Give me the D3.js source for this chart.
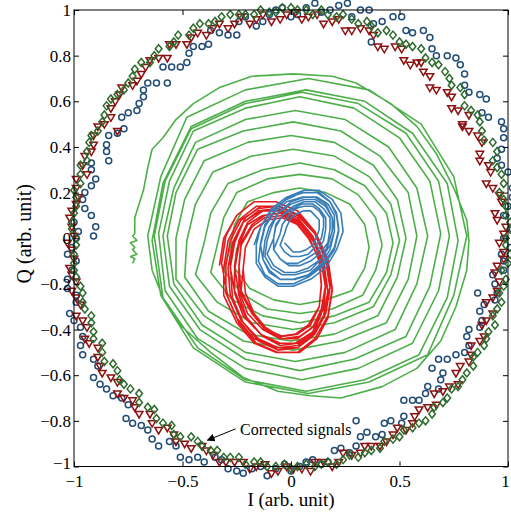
<!DOCTYPE html>
<html>
<head>
<meta charset="utf-8">
<script src="https://cdn.jsdelivr.net/npm/d3@7"></script>
<style>
  body { margin: 0; background: #fff; }
  text { font-family: "Liberation Serif", "Times New Roman", serif; }
</style>
</head>
<body>
<div id="chart"></div>
<script>
/* DATA */
const xTicks = [-1, -0.5, 0, 0.5, 1];
const yTicks = [-1, -0.8, -0.6, -0.4, -0.2, 0, 0.2, 0.4, 0.6, 0.8, 1];
const xLabel = "I (arb. unit)";
const yLabel = "Q (arb. unit)";
const noteText = "Corrected signals";
const notePoint = [-0.235, -0.86];
const arrowFrom = [-0.255, -0.835];
const arrowTo = [-0.385, -0.885];

// uncorrected trajectories (I, Q)
const spiralGreen = [
  [-0.73,-0.11],[-0.72,-0.09],[-0.74,-0.08],[-0.71,-0.07],[-0.73,-0.05],[-0.72,-0.04],[-0.74,-0.02],[-0.71,-0.01],[-0.73,0.01],[-0.72,0.02],[-0.72,0.05],[-0.72,0.09],[-0.70,0.15],[-0.68,0.21],[-0.66,0.31],[-0.64,0.39],[-0.59,0.44],[-0.53,0.52],[-0.45,0.59],[-0.33,0.66],[-0.18,0.71],[0.01,0.72],[0.19,0.71],[0.30,0.68],[0.46,0.59],[0.58,0.49],[0.67,0.37],[0.75,0.22],[0.81,0.08],[0.82,-0.01],[0.81,-0.14],[0.76,-0.30],[0.69,-0.45],[0.58,-0.57],[0.42,-0.65],[0.23,-0.70],[0.09,-0.69],[-0.06,-0.67],[-0.22,-0.61],[-0.37,-0.50],[-0.50,-0.39],[-0.59,-0.26],[-0.64,-0.14],
  [-0.66,0.01],[-0.60,0.27],[-0.48,0.53],[-0.21,0.65],[0.08,0.70],[0.36,0.65],[0.60,0.50],[0.75,0.27],[0.81,0.01],[0.75,-0.25],[0.63,-0.51],[0.36,-0.63],[0.08,-0.68],[-0.21,-0.63],[-0.45,-0.48],[-0.60,-0.25],
  [-0.64,-0.01],[-0.59,0.24],[-0.46,0.49],[-0.21,0.60],[0.07,0.65],[0.34,0.60],[0.56,0.46],[0.72,0.24],[0.77,-0.01],[0.72,-0.26],[0.59,-0.51],[0.34,-0.62],[0.07,-0.67],[-0.21,-0.62],[-0.43,-0.48],[-0.59,-0.26],
  [-0.63,0.01],[-0.58,0.25],[-0.46,0.48],[-0.21,0.59],[0.05,0.64],[0.31,0.59],[0.53,0.46],[0.68,0.25],[0.73,0.01],[0.68,-0.23],[0.56,-0.46],[0.31,-0.57],[0.05,-0.62],[-0.21,-0.57],[-0.43,-0.44],[-0.58,-0.23],
  [-0.61,0.02],[-0.56,0.25],[-0.45,0.47],[-0.21,0.57],[0.04,0.62],[0.29,0.57],[0.50,0.44],[0.64,0.25],[0.69,0.02],[0.64,-0.21],[0.53,-0.43],[0.29,-0.53],[0.04,-0.58],[-0.21,-0.53],[-0.42,-0.40],[-0.56,-0.21],
  [-0.59,0.01],[-0.54,0.22],[-0.44,0.42],[-0.21,0.52],[0.02,0.56],[0.25,0.52],[0.45,0.40],[0.58,0.22],[0.63,0.01],[0.58,-0.20],[0.48,-0.40],[0.25,-0.50],[0.02,-0.54],[-0.21,-0.50],[-0.41,-0.38],[-0.54,-0.20],
  [-0.57,0.01],[-0.53,0.20],[-0.43,0.39],[-0.22,0.47],[0.01,0.51],[0.23,0.47],[0.41,0.36],[0.54,0.20],[0.58,0.01],[0.54,-0.18],[0.44,-0.37],[0.23,-0.45],[0.01,-0.49],[-0.22,-0.45],[-0.40,-0.34],[-0.53,-0.18],
  [-0.53,0.00],[-0.49,0.17],[-0.40,0.34],[-0.20,0.42],[0.00,0.45],[0.20,0.42],[0.38,0.32],[0.49,0.17],[0.53,0.00],[0.49,-0.17],[0.40,-0.34],[0.20,-0.42],[0.00,-0.45],[-0.20,-0.42],[-0.38,-0.32],[-0.49,-0.17],
  [-0.48,-0.01],[-0.44,0.15],[-0.36,0.29],[-0.18,0.36],[0.01,0.39],[0.20,0.36],[0.36,0.27],[0.46,0.15],[0.50,-0.01],[0.46,-0.16],[0.38,-0.30],[0.20,-0.37],[0.01,-0.40],[-0.18,-0.37],[-0.34,-0.28],[-0.44,-0.16],
  [-0.40,-0.02],[-0.37,0.11],[-0.29,0.24],[-0.13,0.30],[0.04,0.33],[0.20,0.30],[0.34,0.23],[0.44,0.11],[0.47,-0.02],[0.44,-0.15],[0.36,-0.28],[0.20,-0.34],[0.04,-0.37],[-0.13,-0.34],[-0.27,-0.27],[-0.37,-0.15],
  [-0.34,-0.03],[-0.31,0.09],[-0.25,0.20],[-0.11,0.26],[0.04,0.28],[0.19,0.26],[0.31,0.19],[0.39,0.09],[0.42,-0.03],[0.39,-0.14],[0.33,-0.25],[0.19,-0.31],[0.04,-0.33],[-0.11,-0.31],[-0.23,-0.24],[-0.31,-0.14],
  [-0.28,-0.04],[-0.26,0.06],[-0.20,0.16],[-0.08,0.20],[0.04,0.22],[0.16,0.20],[0.27,0.15],[0.34,0.06],[0.36,-0.04],[0.34,-0.13],[0.28,-0.23],[0.16,-0.27],[0.04,-0.29],[-0.08,-0.27],[-0.19,-0.22],[-0.26,-0.13],[-0.25,-0.04]
];

const spiralRed = [
  [-0.33,-0.12],[-0.31,0.00],[-0.25,0.10],[-0.17,0.16],[-0.07,0.16],[0.03,0.12],[0.11,0.03],[0.17,-0.09],[0.19,-0.22],[0.17,-0.34],[0.11,-0.44],[0.03,-0.50],[-0.07,-0.50],[-0.17,-0.46],[-0.25,-0.37],[-0.31,-0.25],
  [-0.31,-0.13],[-0.29,-0.01],[-0.24,0.08],[-0.16,0.14],[-0.06,0.14],[0.04,0.10],[0.12,0.01],[0.17,-0.10],[0.19,-0.23],[0.17,-0.35],[0.12,-0.44],[0.04,-0.50],[-0.06,-0.50],[-0.16,-0.46],[-0.24,-0.37],[-0.29,-0.26],
  [-0.32,-0.11],[-0.30,0.01],[-0.25,0.10],[-0.17,0.16],[-0.07,0.16],[0.03,0.12],[0.11,0.03],[0.16,-0.08],[0.18,-0.21],[0.16,-0.33],[0.11,-0.42],[0.03,-0.48],[-0.07,-0.48],[-0.17,-0.44],[-0.25,-0.35],[-0.30,-0.24],
  [-0.30,-0.12],[-0.28,-0.01],[-0.23,0.08],[-0.15,0.13],[-0.06,0.14],[0.03,0.10],[0.11,0.02],[0.16,-0.10],[0.18,-0.22],[0.16,-0.33],[0.11,-0.42],[0.03,-0.47],[-0.06,-0.48],[-0.15,-0.44],[-0.23,-0.36],[-0.28,-0.25],
  [-0.29,-0.13],[-0.27,-0.02],[-0.22,0.07],[-0.15,0.12],[-0.06,0.13],[0.03,0.09],[0.10,0.01],[0.15,-0.10],[0.17,-0.23],[0.15,-0.34],[0.10,-0.43],[0.03,-0.48],[-0.06,-0.49],[-0.15,-0.45],[-0.22,-0.37],[-0.27,-0.26],
  [-0.28,-0.11],[-0.26,0.00],[-0.21,0.09],[-0.14,0.14],[-0.05,0.14],[0.04,0.10],[0.11,0.02],[0.16,-0.09],[0.18,-0.21],[0.16,-0.32],[0.11,-0.41],[0.04,-0.46],[-0.05,-0.46],[-0.14,-0.42],[-0.21,-0.34],[-0.26,-0.23],
  [-0.28,-0.13],[-0.26,-0.02],[-0.22,0.07],[-0.14,0.12],[-0.06,0.12],[0.02,0.08],[0.10,0.00],[0.14,-0.10],[0.16,-0.21],[0.14,-0.32],[0.10,-0.41],[0.02,-0.46],[-0.06,-0.46],[-0.14,-0.42],[-0.22,-0.34],[-0.26,-0.24],
  [-0.26,-0.14],[-0.24,-0.03],[-0.20,0.06],[-0.13,0.10],[-0.05,0.11],[0.03,0.07],[0.10,0.00],[0.14,-0.11],[0.16,-0.22],[0.14,-0.33],[0.10,-0.42],[0.03,-0.46],[-0.05,-0.47],[-0.13,-0.43],[-0.20,-0.36],[-0.24,-0.25],
  [-0.26,-0.12],[-0.24,-0.01],[-0.20,0.07],[-0.13,0.12],[-0.05,0.12],[0.03,0.08],[0.10,0.01],[0.14,-0.09],[0.16,-0.20],[0.14,-0.31],[0.10,-0.39],[0.03,-0.44],[-0.05,-0.44],[-0.13,-0.40],[-0.20,-0.33],[-0.24,-0.23],
  [-0.24,-0.13],[-0.23,-0.03],[-0.18,0.05],[-0.12,0.09],[-0.04,0.10],[0.04,0.06],[0.10,-0.01],[0.15,-0.10],[0.16,-0.21],[0.15,-0.31],[0.10,-0.39],[0.04,-0.43],[-0.04,-0.44],[-0.12,-0.40],[-0.18,-0.33],[-0.23,-0.24],
  [-0.24,-0.12],[-0.23,-0.02],[-0.18,0.06],[-0.12,0.10],[-0.05,0.11],[0.02,0.07],[0.08,0.00],[0.13,-0.09],[0.14,-0.20],[0.13,-0.30],[0.08,-0.38],[0.02,-0.42],[-0.05,-0.43],[-0.12,-0.39],[-0.18,-0.32],[-0.23,-0.23],
  [-0.22,-0.13],[-0.21,-0.04],[-0.17,0.04],[-0.11,0.08],[-0.04,0.09],[0.03,0.06],[0.09,-0.01],[0.13,-0.10],[0.14,-0.21],[0.13,-0.30],[0.09,-0.38],[0.03,-0.42],[-0.04,-0.43],[-0.11,-0.40],[-0.17,-0.33],[-0.21,-0.24],[-0.22,-0.14]
];

const spiralBlue = [
  [-0.17,-0.03],[-0.14,0.05],[-0.09,0.13],[-0.02,0.18],[0.06,0.21],[0.13,0.21],[0.19,0.17],[0.23,0.11],[0.24,0.03],[0.21,-0.05],[0.16,-0.13],[0.09,-0.18],[0.01,-0.21],[-0.06,-0.21],[-0.12,-0.17],[-0.16,-0.11],
  [-0.16,-0.03],[-0.14,0.05],[-0.09,0.12],[-0.02,0.17],[0.05,0.20],[0.12,0.20],[0.18,0.16],[0.21,0.10],[0.22,0.03],[0.20,-0.05],[0.15,-0.12],[0.08,-0.17],[0.01,-0.20],[-0.06,-0.20],[-0.12,-0.16],[-0.15,-0.10],
  [-0.14,-0.02],[-0.12,0.06],[-0.07,0.13],[-0.01,0.18],[0.06,0.20],[0.13,0.20],[0.18,0.16],[0.21,0.11],[0.22,0.04],[0.20,-0.04],[0.15,-0.11],[0.09,-0.16],[0.02,-0.18],[-0.05,-0.18],[-0.10,-0.14],[-0.13,-0.09],
  [-0.14,-0.03],[-0.12,0.05],[-0.08,0.11],[-0.02,0.16],[0.05,0.18],[0.11,0.18],[0.16,0.15],[0.19,0.09],[0.20,0.03],[0.18,-0.05],[0.14,-0.11],[0.08,-0.16],[0.01,-0.18],[-0.05,-0.18],[-0.10,-0.15],[-0.13,-0.09],
  [-0.12,-0.01],[-0.10,0.05],[-0.06,0.11],[0.00,0.16],[0.06,0.18],[0.12,0.18],[0.17,0.15],[0.20,0.10],[0.20,0.03],[0.18,-0.03],[0.14,-0.09],[0.09,-0.14],[0.02,-0.16],[-0.04,-0.16],[-0.09,-0.13],[-0.12,-0.08],
  [-0.11,-0.01],[-0.09,0.05],[-0.06,0.11],[0.00,0.15],[0.06,0.17],[0.11,0.17],[0.16,0.14],[0.19,0.09],[0.19,0.03],[0.17,-0.03],[0.14,-0.09],[0.08,-0.13],[0.02,-0.15],[-0.03,-0.15],[-0.08,-0.12],[-0.11,-0.07],
  [-0.08,0.00],[-0.07,0.06],[-0.03,0.11],[0.01,0.14],[0.06,0.16],[0.11,0.16],[0.15,0.13],[0.18,0.09],[0.18,0.04],[0.17,-0.02],[0.13,-0.07],[0.09,-0.10],[0.04,-0.12],[-0.01,-0.12],[-0.05,-0.09],[-0.08,-0.05],
  [-0.08,0.00],[-0.07,0.05],[-0.04,0.10],[0.01,0.13],[0.05,0.15],[0.10,0.15],[0.13,0.13],[0.16,0.09],[0.16,0.04],[0.15,-0.01],[0.12,-0.06],[0.07,-0.09],[0.03,-0.11],[-0.02,-0.11],[-0.05,-0.09],[-0.08,-0.05],
  [-0.05,0.02],[-0.04,0.06],[-0.01,0.10],[0.02,0.13],[0.06,0.14],[0.10,0.14],[0.13,0.12],[0.15,0.09],[0.15,0.05],[0.14,0.00],[0.11,-0.04],[0.08,-0.07],[0.04,-0.08],[0.00,-0.08],[-0.03,-0.06],[-0.05,-0.03],
  [-0.03,0.02],[-0.02,0.05],[0.00,0.09],[0.03,0.11],[0.06,0.12],[0.09,0.12],[0.11,0.10],[0.13,0.08],[0.13,0.04],[0.12,0.01],[0.10,-0.03],[0.07,-0.05],[0.04,-0.06],[0.01,-0.06],[-0.01,-0.04],[-0.03,-0.02]
];

// corrected signals on the unit circle (I, Q)
const ringGreen = [
  [0.99,0.00],[1.01,0.07],[0.99,0.14],[0.96,0.20],[0.97,0.28],[0.93,0.34],[0.93,0.42],[0.88,0.47],[0.86,0.54],[0.80,0.58],[0.78,0.66],[0.73,0.70],[0.68,0.76],[0.62,0.79],[0.56,0.84],[0.50,0.86],[0.44,0.91],[0.37,0.93],[0.31,0.94],[0.24,0.98],[0.17,0.98],[0.10,0.98],[0.03,1.00],
  [-0.04,1.01],[-0.10,0.99],[-0.17,0.98],[-0.24,0.98],[-0.32,0.97],[-0.38,0.94],[-0.45,0.92],[-0.52,0.89],[-0.56,0.84],[-0.63,0.80],[-0.69,0.77],[-0.73,0.71],[-0.77,0.65],[-0.83,0.61],[-0.86,0.54],[-0.89,0.47],[-0.93,0.42],[-0.94,0.34],[-0.97,0.28],[-1.00,0.21],[-0.99,0.14],[-1.01,0.07],
  [-0.99,0.00],[-1.00,-0.07],[-1.00,-0.14],[-0.97,-0.21],[-0.96,-0.28],[-0.92,-0.34],[-0.91,-0.41],[-0.87,-0.46],[-0.86,-0.54],[-0.80,-0.58],[-0.77,-0.64],[-0.70,-0.68],[-0.66,-0.74],[-0.62,-0.79],[-0.55,-0.82],[-0.51,-0.87],[-0.43,-0.89],[-0.37,-0.93],[-0.31,-0.96],[-0.24,-0.96],[-0.17,-0.98],[-0.11,-1.00],[-0.03,-0.99],
  [0.03,-1.00],[0.11,-1.00],[0.17,-0.98],[0.24,-0.97],[0.31,-0.96],[0.37,-0.93],[0.43,-0.89],[0.50,-0.87],[0.56,-0.83],[0.62,-0.80],[0.66,-0.74],[0.72,-0.70],[0.77,-0.65],[0.81,-0.59],[0.84,-0.52],[0.89,-0.47],[0.91,-0.41],[0.93,-0.34],[0.97,-0.28],[0.98,-0.21],[0.97,-0.14],[1.01,-0.07],
  [1.01,0.04],[0.99,0.10],[0.98,0.17],[0.98,0.24],[0.95,0.31],[0.95,0.38],[0.89,0.43],[0.87,0.51],[0.83,0.56],[0.80,0.63],[0.74,0.67],[0.71,0.73],[0.65,0.77],[0.60,0.83],[0.53,0.85],[0.47,0.89],[0.40,0.90],[0.35,0.95],[0.28,0.96],[0.21,0.97],[0.14,1.00],[0.07,1.00],[0.00,1.01],
  [-0.07,0.99],[-0.14,1.00],[-0.21,0.98],[-0.28,0.98],[-0.35,0.95],[-0.42,0.94],[-0.47,0.89],[-0.54,0.86],[-0.61,0.83],[-0.65,0.77],[-0.72,0.74],[-0.75,0.68],[-0.80,0.63],[-0.85,0.58],[-0.87,0.51],[-0.92,0.45],[-0.94,0.38],[-0.97,0.32],[-0.97,0.24],[-0.99,0.18],[-1.00,0.11],[-1.01,0.04],
  [-0.99,-0.03],[-1.00,-0.11],[-0.99,-0.17],[-0.96,-0.24],[-0.95,-0.31],[-0.92,-0.37],[-0.91,-0.44],[-0.87,-0.50],[-0.82,-0.55],[-0.79,-0.62],[-0.74,-0.66],[-0.70,-0.72],[-0.63,-0.75],[-0.59,-0.81],[-0.54,-0.86],[-0.46,-0.87],[-0.41,-0.91],[-0.34,-0.93],[-0.28,-0.96],[-0.21,-0.99],[-0.14,-0.98],[-0.07,-1.00],[0.00,-1.01],
  [0.07,-0.99],[0.14,-0.99],[0.21,-0.99],[0.27,-0.95],[0.34,-0.94],[0.41,-0.92],[0.47,-0.88],[0.52,-0.84],[0.59,-0.81],[0.65,-0.77],[0.70,-0.72],[0.74,-0.66],[0.79,-0.62],[0.84,-0.56],[0.86,-0.50],[0.90,-0.44],[0.94,-0.38],[0.95,-0.31],[0.96,-0.24],[0.99,-0.18],[1.00,-0.11],[0.99,-0.03]
];

const ringRed = [
  [0.98,0.02],[0.95,0.08],[0.97,0.16],[0.93,0.22],[0.92,0.29],[0.87,0.34],[0.88,0.42],[0.82,0.47],[0.82,0.54],[0.74,0.57],[0.72,0.64],[0.64,0.66],[0.61,0.73],[0.55,0.76],[0.51,0.83],[0.43,0.83],[0.38,0.89],[0.32,0.92],[0.25,0.91],[0.19,0.95],[0.12,0.98],[0.05,0.96],[-0.02,0.98],
  [-0.09,0.95],[-0.16,0.96],[-0.23,0.97],[-0.29,0.92],[-0.36,0.92],[-0.43,0.90],[-0.48,0.85],[-0.56,0.85],[-0.61,0.79],[-0.67,0.75],[-0.71,0.69],[-0.78,0.66],[-0.81,0.60],[-0.83,0.53],[-0.89,0.49],[-0.91,0.41],[-0.95,0.36],[-0.94,0.28],[-0.99,0.22],[-0.99,0.15],[-1.02,0.09],[-1.00,0.01],
  [-1.01,-0.05],[-1.02,-0.13],[-0.99,-0.19],[-0.99,-0.26],[-0.99,-0.34],[-0.94,-0.39],[-0.93,-0.46],[-0.89,-0.52],[-0.87,-0.59],[-0.80,-0.63],[-0.77,-0.70],[-0.72,-0.74],[-0.65,-0.77],[-0.61,-0.84],[-0.54,-0.86],[-0.49,-0.90],[-0.41,-0.91],[-0.36,-0.95],[-0.30,-0.98],[-0.22,-0.98],[-0.16,-1.00],[-0.09,-1.03],[-0.02,-1.00],
  [0.05,-1.01],[0.11,-0.98],[0.19,-1.00],[0.24,-0.94],[0.32,-0.94],[0.37,-0.91],[0.44,-0.89],[0.49,-0.83],[0.56,-0.81],[0.59,-0.75],[0.67,-0.73],[0.70,-0.67],[0.77,-0.64],[0.78,-0.56],[0.83,-0.51],[0.87,-0.45],[0.88,-0.38],[0.93,-0.33],[0.93,-0.26],[0.96,-0.19],[0.95,-0.12],[0.98,-0.06],
  [0.96,-0.02],[0.99,0.05],[0.94,0.11],[0.96,0.19],[0.90,0.24],[0.91,0.32],[0.87,0.37],[0.86,0.45],[0.79,0.49],[0.77,0.56],[0.74,0.62],[0.67,0.65],[0.64,0.71],[0.60,0.77],[0.52,0.78],[0.48,0.84],[0.40,0.84],[0.36,0.91],[0.28,0.91],[0.22,0.96],[0.15,0.94],[0.08,0.97],[0.02,0.99],
  [-0.05,0.96],[-0.13,0.98],[-0.19,0.94],[-0.26,0.94],[-0.33,0.94],[-0.39,0.89],[-0.46,0.88],[-0.53,0.85],[-0.57,0.79],[-0.65,0.78],[-0.69,0.72],[-0.73,0.67],[-0.79,0.63],[-0.83,0.57],[-0.86,0.50],[-0.91,0.45],[-0.92,0.38],[-0.96,0.32],[-0.99,0.26],[-0.98,0.18],[-1.01,0.12],[-1.01,0.05],
  [-1.03,-0.02],[-1.00,-0.09],[-1.01,-0.16],[-1.01,-0.23],[-0.97,-0.29],[-0.96,-0.36],[-0.95,-0.44],[-0.89,-0.48],[-0.88,-0.56],[-0.83,-0.61],[-0.80,-0.68],[-0.73,-0.71],[-0.70,-0.77],[-0.64,-0.81],[-0.57,-0.83],[-0.53,-0.89],[-0.46,-0.92],[-0.39,-0.93],[-0.33,-0.98],[-0.26,-0.98],[-0.19,-1.01],[-0.12,-0.99],[-0.06,-1.02],
  [0.01,-1.01],[0.09,-1.02],[0.15,-0.98],[0.22,-0.98],[0.28,-0.95],[0.34,-0.91],[0.41,-0.91],[0.47,-0.86],[0.53,-0.84],[0.57,-0.78],[0.63,-0.74],[0.66,-0.68],[0.73,-0.65],[0.76,-0.59],[0.82,-0.54],[0.83,-0.47],[0.89,-0.43],[0.90,-0.36],[0.90,-0.28],[0.95,-0.23],[0.94,-0.15],[0.98,-0.09],
  [-0.80,0.47],[0.58,0.77],[0.79,0.50]
];

const ringBlue = [
  [1.02,0.04],[0.98,0.10],[1.02,0.18],[1.04,0.26],[0.97,0.32],[0.97,0.39],[0.98,0.48],[0.91,0.53],[0.90,0.61],[0.82,0.64],[0.80,0.72],[0.76,0.79],[0.67,0.80],[0.64,0.88],[0.56,0.90],[0.51,0.97],[0.42,0.95],[0.36,1.00],[0.28,0.97],[0.22,1.02],[0.14,0.99],[0.07,1.01],[0.00,0.97],
  [-0.07,1.00],[-0.13,0.95],[-0.21,0.97],[-0.25,0.89],[-0.33,0.90],[-0.38,0.85],[-0.45,0.84],[-0.48,0.77],[-0.55,0.75],[-0.57,0.68],[-0.66,0.68],[-0.68,0.62],[-0.71,0.56],[-0.78,0.53],[-0.80,0.46],[-0.85,0.41],[-0.84,0.34],[-0.92,0.30],[-0.92,0.23],[-0.96,0.17],[-0.92,0.10],[-0.98,0.03],
  [-1.01,-0.04],[-0.99,-0.10],[-1.03,-0.18],[-0.99,-0.25],[-1.02,-0.33],[-0.97,-0.39],[-0.97,-0.47],[-0.91,-0.53],[-0.91,-0.61],[-0.85,-0.66],[-0.78,-0.70],[-0.76,-0.79],[-0.69,-0.82],[-0.64,-0.88],[-0.56,-0.89],[-0.51,-0.96],[-0.43,-0.96],[-0.35,-0.96],[-0.29,-1.01],[-0.22,-1.03],[-0.14,-1.00],[-0.07,-1.01],[0.00,-1.02],
  [0.07,-0.98],[0.14,-0.99],[0.20,-0.93],[0.27,-0.94],[0.32,-0.87],[0.39,-0.87],[0.43,-0.81],[0.51,-0.81],[0.52,-0.71],[0.59,-0.71],[0.63,-0.65],[0.69,-0.62],[0.68,-0.53],[0.76,-0.51],[0.82,-0.47],[0.82,-0.40],[0.88,-0.36],[0.89,-0.29],[0.95,-0.24],[0.93,-0.16],[0.98,-0.10],[1.01,-0.04],
  [0.98,0.00],[1.04,0.07],[1.00,0.14],[1.02,0.22],[1.00,0.29],[0.95,0.35],[0.98,0.44],[0.97,0.51],[0.88,0.55],[0.87,0.63],[0.80,0.67],[0.78,0.76],[0.72,0.80],[0.65,0.83],[0.61,0.91],[0.53,0.91],[0.47,0.97],[0.38,0.94],[0.32,1.00],[0.26,1.03],[0.18,1.00],[0.11,1.03],[0.03,0.98],
  [-0.04,1.01],[-0.10,0.98],[-0.16,0.93],[-0.24,0.95],[-0.29,0.89],[-0.37,0.91],[-0.41,0.84],[-0.47,0.81],[-0.51,0.75],[-0.59,0.75],[-0.62,0.68],[-0.68,0.65],[-0.70,0.59],[-0.75,0.55],[-0.77,0.48],[-0.84,0.45],[-0.85,0.38],[-0.92,0.33],[-0.90,0.26],[-0.95,0.20],[-0.95,0.13],[-1.00,0.07],
  [-0.99,0.00],[-1.03,-0.07],[-1.01,-0.14],[-1.03,-0.22],[-0.99,-0.28],[-1.00,-0.36],[-0.96,-0.43],[-0.96,-0.51],[-0.89,-0.56],[-0.88,-0.64],[-0.82,-0.69],[-0.75,-0.73],[-0.73,-0.81],[-0.66,-0.84],[-0.61,-0.91],[-0.53,-0.91],[-0.47,-0.97],[-0.40,-0.98],[-0.32,-0.97],[-0.25,-1.02],[-0.18,-1.01],[-0.11,-1.04],[-0.03,-0.99],
  [0.04,-1.00],[0.10,-0.97],[0.17,-0.98],[0.23,-0.92],[0.30,-0.91],[0.35,-0.85],[0.42,-0.86],[0.46,-0.80],[0.52,-0.78],[0.56,-0.71],[0.62,-0.68],[0.68,-0.66],[0.70,-0.59],[0.72,-0.53],[0.80,-0.50],[0.81,-0.43],[0.87,-0.39],[0.87,-0.32],[0.94,-0.27],[0.94,-0.20],[0.98,-0.14],[0.97,-0.07],
  [-0.91,0.01],[-0.90,0.05],[0.86,-0.24],[0.65,-0.57],[0.37,0.86],[0.30,-0.80]
];

/* CONSTANTS */
const width = 511,
  height = 512,
  margin = { top: 10, right: 3, bottom: 45.5, left: 74 };

const colors = {
  spiralGreen: "#4daf4a",
  spiralRed: "#e41a1c",
  spiralBlue: "#377eb8",
  ringBlue: "#1f4b75",
  ringRed: "#8b1010",
  ringGreen: "#2c6a2c"
};

/* SCALES */
const xScale = d3.scaleLinear()
  .domain([-1, 1])
  .range([margin.left, width - margin.right]);

const yScale = d3.scaleLinear()
  .domain([-1, 1])
  .range([height - margin.bottom, margin.top]);

const svg = d3.select("#chart")
  .append("svg")
  .attr("width", width)
  .attr("height", height);

const plot = svg.append("g");

/* SPIRALS */
const line = d3.line()
  .x(d => xScale(d[0]))
  .y(d => yScale(d[1]));

[["spiralGreen", spiralGreen], ["spiralRed", spiralRed], ["spiralBlue", spiralBlue]]
  .forEach(([key, pts]) => {
    plot.append("path")
      .datum(pts)
      .attr("fill", "none")
      .attr("stroke", colors[key])
      .attr("stroke-width", 1.6)
      .attr("stroke-linejoin", "round")
      .attr("d", line);
  });

/* MARKERS */
plot.append("g")
  .selectAll("circle")
  .data(ringBlue)
  .join("circle")
  .attr("cx", d => xScale(d[0]))
  .attr("cy", d => yScale(d[1]))
  .attr("r", 3)
  .attr("fill", "none")
  .attr("stroke", colors.ringBlue)
  .attr("stroke-width", 1.5);

plot.append("g")
  .selectAll("path")
  .data(ringRed)
  .join("path")
  .attr("transform", d => `translate(${xScale(d[0])},${yScale(d[1])})`)
  .attr("d", "M-3.8,-2.5L3.8,-2.5L0,4Z")
  .attr("fill", "none")
  .attr("stroke", colors.ringRed)
  .attr("stroke-width", 1.5);

plot.append("g")
  .selectAll("path")
  .data(ringGreen)
  .join("path")
  .attr("transform", d => `translate(${xScale(d[0])},${yScale(d[1])})`)
  .attr("d", "M0,-4L3.3,0L0,4L-3.3,0Z")
  .attr("fill", "none")
  .attr("stroke", colors.ringGreen)
  .attr("stroke-width", 1.5);

/* AXES */
const fmt = d3.format("~g");

svg.append("g")
  .attr("transform", `translate(0,${height - margin.bottom})`)
  .call(d3.axisBottom(xScale).tickValues(xTicks).tickFormat(fmt)
    .tickSizeInner(-5).tickSizeOuter(0).tickPadding(8))
  .call(g => g.selectAll(".tick:last-of-type text").attr("dx", -3));

svg.append("g")
  .attr("transform", `translate(${margin.left},0)`)
  .call(d3.axisLeft(yScale).tickValues(yTicks).tickFormat(fmt)
    .tickSizeInner(-5).tickSizeOuter(0).tickPadding(3))
  .call(g => g.selectAll(".tick:first-of-type text").attr("dy", "0.1em"));

svg.append("g")
  .attr("transform", `translate(0,${margin.top})`)
  .call(d3.axisTop(xScale).tickValues(xTicks).tickFormat("")
    .tickSizeInner(-5).tickSizeOuter(0));

svg.append("g")
  .attr("transform", `translate(${width - margin.right},0)`)
  .call(d3.axisRight(yScale).tickValues(yTicks).tickFormat("")
    .tickSizeInner(-5).tickSizeOuter(0));

svg.selectAll(".domain").remove();
svg.selectAll(".tick line").attr("stroke", "#000");
svg.selectAll(".tick text")
  .attr("fill", "#000")
  .attr("font-size", 17)
  .attr("font-family", "Liberation Serif, serif");

svg.append("rect")
  .attr("x", margin.left)
  .attr("y", margin.top)
  .attr("width", width - margin.left - margin.right)
  .attr("height", height - margin.top - margin.bottom)
  .attr("fill", "none")
  .attr("stroke", "#000")
  .attr("stroke-width", 1);

/* LABELS */
svg.append("text")
  .attr("x", xScale(0))
  .attr("y", 506)
  .attr("text-anchor", "middle")
  .attr("font-size", 19)
  .text(xLabel);

svg.append("text")
  .attr("transform", `translate(31,${yScale(0.02)}) rotate(-90)`)
  .attr("text-anchor", "middle")
  .attr("font-size", 20)
  .text(yLabel);

/* ANNOTATION */
svg.append("defs").append("marker")
  .attr("id", "arrow")
  .attr("viewBox", "0 0 10 10")
  .attr("refX", 9)
  .attr("refY", 5)
  .attr("markerWidth", 8)
  .attr("markerHeight", 8)
  .attr("markerUnits", "userSpaceOnUse")
  .attr("orient", "auto")
  .append("path")
  .attr("d", "M0,0L10,5L0,10Z")
  .attr("fill", "#000");

svg.append("line")
  .attr("x1", xScale(arrowFrom[0]))
  .attr("y1", yScale(arrowFrom[1]))
  .attr("x2", xScale(arrowTo[0]))
  .attr("y2", yScale(arrowTo[1]))
  .attr("stroke", "#000")
  .attr("stroke-width", 1)
  .attr("marker-end", "url(#arrow)");

svg.append("text")
  .attr("x", xScale(notePoint[0]))
  .attr("y", yScale(notePoint[1]))
  .attr("font-size", 16)
  .text(noteText);
</script>
</body>
</html>
